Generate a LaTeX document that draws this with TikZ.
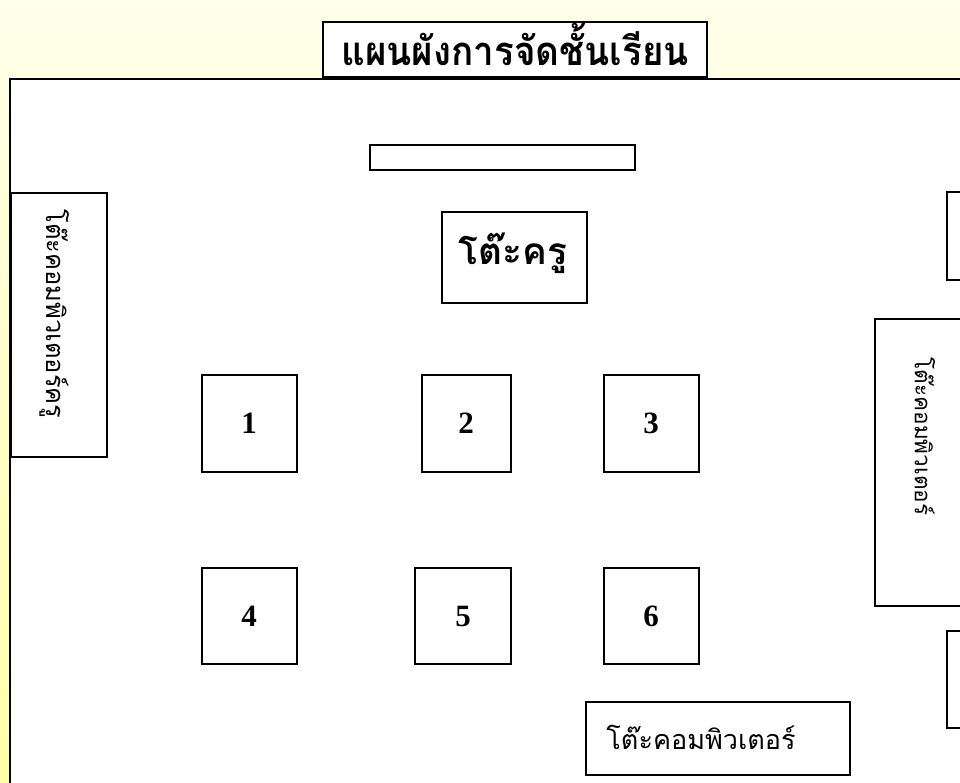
\documentclass[tikz,border=0pt]{standalone}
\usepackage{fontspec}
\setmainfont{Liberation Serif}
\newfontfamily\thai[Script=Thai]{Loma}
\definecolor{bgtop}{HTML}{FFFFEA}
\definecolor{bgbot}{HTML}{FFFFA8}
\begin{document}
\begin{tikzpicture}[x=1pt,y=-1pt,
  box/.style={draw=black, line width=1.6pt, fill=white, inner sep=0pt, rectangle},
  num/.style={font=\fontsize{31}{32}\selectfont\bfseries},
  thaititle/.style={font=\thai\bfseries\fontsize{40}{44}\selectfont},
  thaibig/.style={font=\thai\bfseries\fontsize{37}{40}\selectfont},
  thaimid/.style={font=\thai\fontsize{27}{30}\selectfont},
  thaileft/.style={font=\thai\fontsize{25.5}{28}\selectfont, rotate=-90},
  thairight/.style={font=\thai\fontsize{22.5}{26}\selectfont, rotate=-90},
]
\useasboundingbox (0,0) rectangle (960,783);
\clip (0,0) rectangle (960,783);
\shade[top color=bgtop, bottom color=bgbot] (0,0) rectangle (960,783);
% classroom
\node[box, line width=1.8pt, minimum width=1000pt, minimum height=760pt, anchor=north west] (room) at (9,78) {};
% title
\node[box, minimum width=384pt, minimum height=55pt] (title) at (515,49.5) {};
\node[thaititle] (titletext) at (515,44) {\scalebox{0.92}[1]{แผนผังการจัดชั้นเรียน}};
% board
\node[box, minimum width=265pt, minimum height=25pt] (board) at (502.5,157.5) {};
% teacher desk
\node[box, minimum width=145pt, minimum height=91pt] (teacher) at (514.5,257.5) {};
\node[thaibig] (teachertext) at (513,253) {โต๊ะครู};
% left computer table
\node[box, minimum width=96pt, minimum height=264pt] (leftcomp) at (59,325) {};
\node[thaileft] (lefttext) at (55,314) {โต๊ะคอมพิวเตอร์ครู};
% right side
\node[box, minimum width=60pt, minimum height=88pt, anchor=north west] (rsmall1) at (946,191) {};
\node[box, minimum width=120pt, minimum height=287pt, anchor=north west] (rightcomp) at (874,318) {};
\node[thairight] (righttext) at (925,436.5) {โต๊ะคอมพิวเตอร์};
\node[box, minimum width=60pt, minimum height=97pt, anchor=north west] (rsmall2) at (946,630) {};
% student desks
\node[box, minimum width=95pt, minimum height=97pt] (d1) at (249.5,423.5) {};
\node[box, minimum width=89pt, minimum height=97pt] (d2) at (466.5,423.5) {};
\node[box, minimum width=95pt, minimum height=97pt] (d3) at (651.5,423.5) {};
\node[box, minimum width=95pt, minimum height=96pt] (d4) at (249.5,616) {};
\node[box, minimum width=96pt, minimum height=96pt] (d5) at (463,616) {};
\node[box, minimum width=95pt, minimum height=96pt] (d6) at (651.5,616) {};
\node[num] (n1) at (249,423) {1};
\node[num] (n2) at (466,423) {2};
\node[num] (n3) at (651,423) {3};
\node[num] (n4) at (249,616) {4};
\node[num] (n5) at (463,616) {5};
\node[num] (n6) at (651,616) {6};
% bottom computer table
\node[box, minimum width=264pt, minimum height=73pt] (bottomcomp) at (718,738.5) {};
\node[thaimid] (bottomtext) at (701,737) {โต๊ะคอมพิวเตอร์};
\end{tikzpicture}
\end{document}
